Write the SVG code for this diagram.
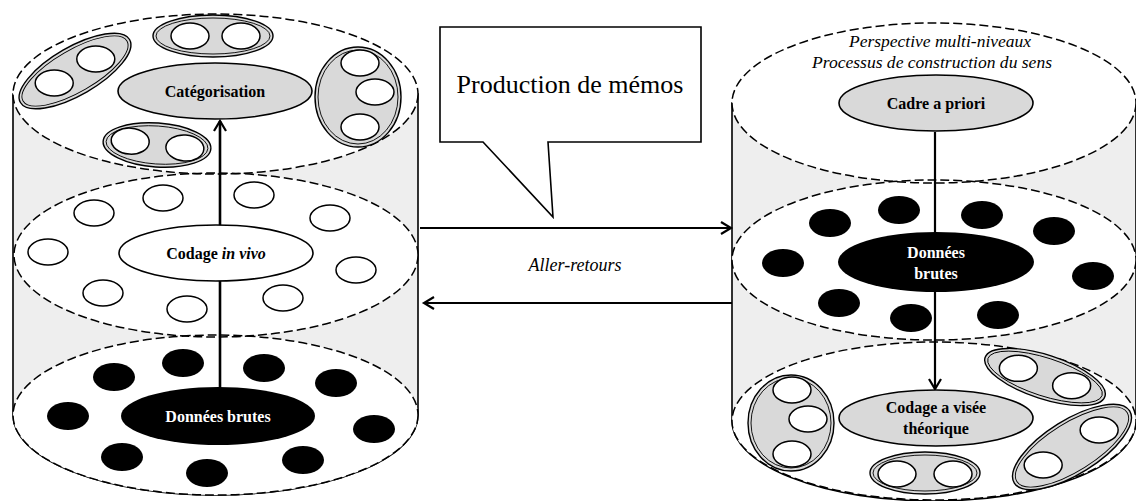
<svg xmlns="http://www.w3.org/2000/svg" width="1136" height="501" viewBox="0 0 1136 501" font-family="Liberation Serif, Times New Roman, serif">
<style>
.body{fill:#eeeeee;stroke:#000;stroke-width:1.6}
.layerfill{fill:#fff;stroke:none}
.layer{fill:none;stroke:#000;stroke-width:1.5;stroke-dasharray:9 4}
.node{stroke:#000;stroke-width:1.6}
.gray{fill:#d9d9d9}
.white{fill:#fff}
.black{fill:#000}
.grp{fill:#d9d9d9;stroke:#000;stroke-width:1.4}
.ring{fill:none;stroke:#000;stroke-width:0.9}
.c{fill:#fff;stroke:#000;stroke-width:1.5}
.d{fill:#000;stroke:none}
.lbl{font-weight:bold;font-size:16px;text-anchor:middle}
.it{font-style:italic;text-anchor:middle}
.conn{fill:none;stroke:#000}
</style>
<defs>
<marker id="ah" markerUnits="userSpaceOnUse" markerWidth="14" markerHeight="16" refX="11" refY="7" orient="auto" viewBox="0 0 14 14">
<path d="M1,1 L11,7 L1,13" fill="none" stroke="#000" stroke-width="2.2"/>
</marker>
</defs>

<!-- cylinder bodies -->
<g id="cylinder-left-body">
<path class="body" d="M13,94 L13,415 A202.5,80 0 0 0 418,415 L418,94 Z"/>
</g>
<g id="cylinder-right-body">
<path class="body" d="M732,103 L732,421 A202,80 0 0 0 1136,421 L1136,103 Z"/>
</g>

<!-- layer fills -->
<ellipse class="layerfill" cx="215.5" cy="415" rx="202.5" ry="80"/>
<ellipse class="layerfill" cx="216" cy="255" rx="202" ry="82"/>
<ellipse class="layerfill" cx="215.5" cy="94" rx="202.5" ry="80"/>
<ellipse class="layerfill" cx="934" cy="421" rx="202" ry="79"/>
<ellipse class="layerfill" cx="934" cy="260" rx="202" ry="80"/>
<ellipse class="layerfill" cx="934" cy="103" rx="202" ry="80"/>
<!-- layer outlines -->
<ellipse class="layer" cx="215.5" cy="415" rx="202.5" ry="80"/>
<ellipse class="layer" cx="216" cy="255" rx="202" ry="82"/>
<ellipse class="layer" cx="215.5" cy="94" rx="202.5" ry="80"/>
<ellipse class="layer" cx="934" cy="421" rx="202" ry="79"/>
<ellipse class="layer" cx="934" cy="260" rx="202" ry="80"/>
<ellipse class="layer" cx="934" cy="103" rx="202" ry="80"/>

<!-- connectors -->
<g id="connectors">
<line class="conn" x1="220" y1="388" x2="220" y2="121" stroke-width="2.6" marker-end="url(#ah)"/>
<line class="conn" x1="935" y1="132" x2="935" y2="389" stroke-width="2.2" marker-end="url(#ah)"/>
<line class="conn" x1="420" y1="228" x2="731" y2="228" stroke-width="2.2" marker-end="url(#ah)"/>
<line class="conn" x1="732" y1="303" x2="424" y2="303" stroke-width="2.2" marker-end="url(#ah)"/>
<text class="it" x="575" y="271" font-size="18">Aller-retours</text>
</g>

<!-- left top layer: Catégorisation -->
<g id="left-top-groups">
<g transform="translate(213,36)"><ellipse class="grp" rx="60" ry="21"/><ellipse class="ring" rx="57" ry="18"/><ellipse class="c" cx="-23" rx="19" ry="13"/><ellipse class="c" cx="28" rx="19" ry="13"/></g>
<g transform="translate(75,71) rotate(-30)"><ellipse class="grp" rx="63" ry="24"/><ellipse class="ring" rx="60" ry="21"/><ellipse class="c" cx="-24" rx="19" ry="13" transform="rotate(30 -24 0)"/><ellipse class="c" cx="24" rx="19" ry="13" transform="rotate(30 24 0)"/></g>
<g transform="translate(358,97)"><ellipse class="grp" rx="43" ry="50"/><ellipse class="ring" rx="40" ry="47"/><ellipse class="c" cx="2" cy="-34" rx="19" ry="13"/><ellipse class="c" cx="17" cy="-5" rx="19" ry="13"/><ellipse class="c" cx="2" cy="30" rx="19" ry="13"/></g>
<g transform="translate(157,145) rotate(4)"><ellipse class="grp" rx="54" ry="22"/><ellipse class="ring" rx="51" ry="19"/><ellipse class="c" cx="-27" cy="-2" rx="19" ry="13"/><ellipse class="c" cx="28" cy="1" rx="19" ry="13"/></g>
</g>
<g id="node-categorisation">
<ellipse class="node gray" cx="215" cy="91" rx="97" ry="28"/>
<text class="lbl" x="215" y="97">Catégorisation</text>
</g>

<!-- left middle layer: Codage in vivo -->
<g id="left-middle-circles">
<ellipse class="c" cx="48" cy="252" rx="20" ry="13"/>
<ellipse class="c" cx="94" cy="213" rx="20" ry="13"/>
<ellipse class="c" cx="163" cy="198" rx="20" ry="13"/>
<ellipse class="c" cx="254" cy="195" rx="20" ry="13"/>
<ellipse class="c" cx="330" cy="218" rx="20" ry="13"/>
<ellipse class="c" cx="356" cy="270" rx="20" ry="13"/>
<ellipse class="c" cx="283" cy="298" rx="20" ry="13"/>
<ellipse class="c" cx="187" cy="309" rx="20" ry="13"/>
<ellipse class="c" cx="103" cy="293" rx="20" ry="13"/>
</g>
<g id="node-codage-in-vivo">
<ellipse class="node white" cx="216" cy="253" rx="97" ry="28"/>
<text class="lbl" x="216" y="259">Codage <tspan font-style="italic">in vivo</tspan></text>
</g>

<!-- left bottom layer: Données brutes -->
<g id="left-bottom-dots">
<ellipse class="d" cx="68" cy="416" rx="21" ry="14"/>
<ellipse class="d" cx="114" cy="377" rx="21" ry="14"/>
<ellipse class="d" cx="183" cy="363" rx="21" ry="14"/>
<ellipse class="d" cx="264" cy="368" rx="21" ry="14"/>
<ellipse class="d" cx="336" cy="383" rx="21" ry="14"/>
<ellipse class="d" cx="374" cy="429" rx="21" ry="14"/>
<ellipse class="d" cx="303" cy="460" rx="21" ry="14"/>
<ellipse class="d" cx="207" cy="473" rx="21" ry="14"/>
<ellipse class="d" cx="122" cy="457" rx="21" ry="14"/>
</g>
<g id="node-donnees-brutes-left">
<ellipse class="black" cx="218" cy="416" rx="97" ry="29"/>
<text class="lbl" x="218" y="422" fill="#fff">Données brutes</text>
</g>

<!-- callout -->
<g id="node-production-memos">
<path d="M440,27 H701 V142 H548 L553,217 L483,142 H440 Z" fill="#fff" stroke="#000" stroke-width="1.6" stroke-linejoin="miter"/>
<text x="570" y="93" font-size="26" text-anchor="middle">Production de mémos</text>
</g>

<!-- right top layer -->
<g id="right-top-texts">
<text class="it" x="940" y="47" font-size="16" textLength="182" lengthAdjust="spacingAndGlyphs">Perspective multi-niveaux</text>
<text class="it" x="932" y="68" font-size="16" textLength="240" lengthAdjust="spacingAndGlyphs">Processus de construction du sens</text>
</g>
<g id="node-cadre-a-priori">
<ellipse class="node gray" cx="936" cy="103" rx="97" ry="28"/>
<text class="lbl" x="936" y="109">Cadre a priori</text>
</g>

<!-- right middle layer -->
<g id="right-middle-dots">
<ellipse class="d" cx="783" cy="263" rx="21" ry="14"/>
<ellipse class="d" cx="830" cy="223" rx="21" ry="14"/>
<ellipse class="d" cx="899" cy="210" rx="21" ry="14"/>
<ellipse class="d" cx="982" cy="215" rx="21" ry="14"/>
<ellipse class="d" cx="1054" cy="231" rx="21" ry="14"/>
<ellipse class="d" cx="1093" cy="276" rx="21" ry="14"/>
<ellipse class="d" cx="998" cy="315" rx="21" ry="14"/>
<ellipse class="d" cx="911" cy="318" rx="21" ry="14"/>
<ellipse class="d" cx="839" cy="303" rx="21" ry="14"/>
</g>
<g id="node-donnees-brutes-right">
<ellipse class="black" cx="936" cy="262" rx="98" ry="30"/>
<text class="lbl" x="936" y="258" fill="#fff">Données</text>
<text class="lbl" x="936" y="279" fill="#fff">brutes</text>
</g>

<!-- right bottom layer -->
<g id="right-bottom-groups">
<g transform="translate(791,423)"><ellipse class="grp" rx="43" ry="48"/><ellipse class="ring" rx="40" ry="45"/><ellipse class="c" cx="1" cy="-33" rx="19" ry="13"/><ellipse class="c" cx="17" cy="-4" rx="19" ry="13"/><ellipse class="c" cx="1" cy="31" rx="19" ry="13"/></g>
<g transform="translate(1045,377) rotate(18)"><ellipse class="grp" rx="63" ry="22"/><ellipse class="ring" rx="60" ry="19"/><ellipse class="c" cx="-28" rx="19" ry="13" transform="rotate(-18 -28 0)"/><ellipse class="c" cx="28" rx="19" ry="13" transform="rotate(-18 28 0)"/></g>
<g transform="translate(1072,447) rotate(-32)"><ellipse class="grp" rx="68" ry="27"/><ellipse class="ring" rx="65" ry="24"/><ellipse class="c" cx="-34" rx="19" ry="13" transform="rotate(32 -34 0)"/><ellipse class="c" cx="32" rx="19" ry="13" transform="rotate(32 32 0)"/></g>
<g transform="translate(925,473)"><ellipse class="grp" rx="55" ry="21"/><ellipse class="ring" rx="52" ry="18"/><ellipse class="c" cx="-28" cy="1" rx="19" ry="13"/><ellipse class="c" cx="28" cy="1" rx="19" ry="13"/></g>
</g>
<g id="node-codage-visee-theorique">
<ellipse class="node gray" cx="936" cy="418" rx="97" ry="28"/>
<text class="lbl" x="936" y="413">Codage a visée</text>
<text class="lbl" x="936" y="434">théorique</text>
</g>
</svg>
